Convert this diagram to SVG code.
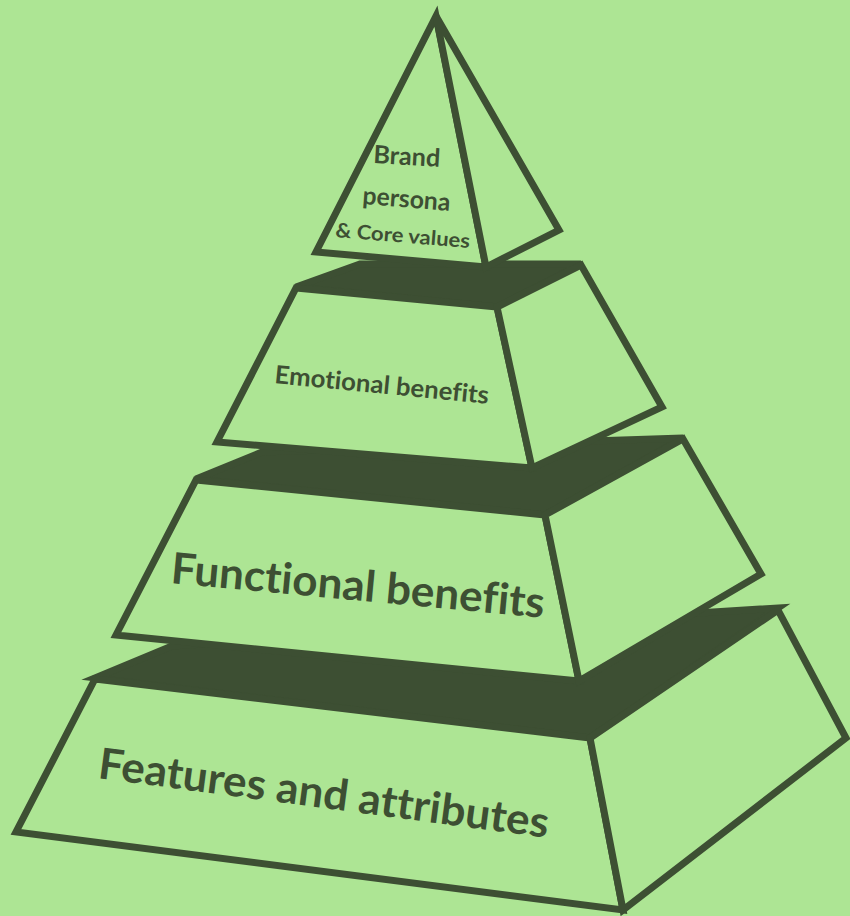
<svg xmlns="http://www.w3.org/2000/svg" width="850" height="916" viewBox="0 0 850 916">
<style>
.face{fill:#ade594;stroke:#3d4f33;stroke-width:7;stroke-linejoin:miter}
.top{fill:#3d4f33;stroke:#3d4f33;stroke-width:7;stroke-linejoin:miter}
.lbl{font-family:Lato,"Open Sans",sans-serif;font-weight:bold;fill:#3d4f33;font-variant-ligatures:none;font-feature-settings:"liga" 0}
</style>
<rect x="0" y="0" width="850" height="916" fill="#ade594"/>
<g id="tier4">
<polygon class="top" points="95,678 172,646 778,608 590,738"/>
<polygon class="face" points="95,679 590,738 623,910 16,832"/>
<polygon class="face" points="590,738 778,610 846,738 623,910"/>
<text class="lbl" font-size="43" x="97" y="778" textLength="454" lengthAdjust="spacingAndGlyphs" transform="rotate(7.56 97 778)">Features and attributes</text>
</g>
<g id="tier3">
<polygon class="top" points="196,479 262,452 683,438 545,515"/>
<polygon class="face" points="196,480 545,515 579,681 116,635"/>
<polygon class="face" points="545,515 683,439 761,574 579,681"/>
<text class="lbl" font-size="43" x="170" y="583" textLength="375" lengthAdjust="spacingAndGlyphs" transform="rotate(5.33 170 583)">Functional benefits</text>
</g>
<g id="tier2">
<polygon class="top" points="296,287 360,264 581,264 497,307"/>
<polygon class="face" points="296,288 497,307 532,468 217,442"/>
<polygon class="face" points="497,307 581,265 662,407 532,468"/>
<text class="lbl" font-size="25" x="274" y="383" textLength="215" lengthAdjust="spacingAndGlyphs" transform="rotate(5.58 274 383)">Emotional benefits</text>
</g>
<g id="tier1">
<polygon class="face" points="436,16 316,252 486,267"/>
<polygon class="face" points="436,16 486,267 559,230"/>
<text class="lbl" font-size="25" x="373" y="163" textLength="67" lengthAdjust="spacingAndGlyphs" transform="rotate(3.4 373 163)">Brand</text>
<text class="lbl" font-size="25" x="362" y="204" textLength="88" lengthAdjust="spacingAndGlyphs" transform="rotate(4.5 362 204)">persona</text>
<text class="lbl" font-size="20" x="335" y="237" textLength="135" lengthAdjust="spacingAndGlyphs" transform="rotate(4.7 335 237)">&amp; Core values</text>
</g>
<g id="connectors"/>
</svg>
